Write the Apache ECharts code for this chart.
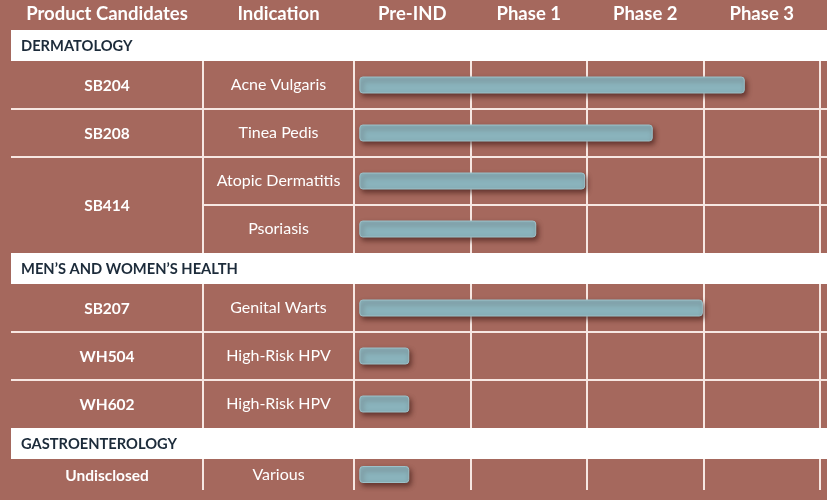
<!DOCTYPE html>
<html><head><meta charset="utf-8">
<script src="https://cdn.jsdelivr.net/npm/echarts@6.0.0/dist/echarts.min.js"></script>
<style>html,body{margin:0;padding:0;background:#A5685D;}#c{width:827px;height:500px;}</style>
</head><body><div id="c"></div>
<script>
// ---- data ----
const phases = ['Pre-IND', 'Phase 1', 'Phase 2', 'Phase 3'];
const tableHeaders = ['Product Candidates', 'Indication'];
const sectionNames = ['DERMATOLOGY', 'MEN’S AND WOMEN’S HEALTH', 'GASTROENTEROLOGY'];
const dermCandidates = ['SB204', 'SB208', 'SB414', 'SB414'];
const dermIndications = ['Acne Vulgaris', 'Tinea Pedis', 'Atopic Dermatitis', 'Psoriasis'];
const dermProgress = [3.35, 2.56, 1.98, 1.56];
const mwhCandidates = ['SB207', 'WH504', 'WH602'];
const mwhIndications = ['Genital Warts', 'High-Risk HPV', 'High-Risk HPV'];
const mwhProgress = [2.99, 0.47, 0.47];
const giCandidates = ['Undisclosed'];
const giIndications = ['Various'];
const giProgress = [0.47];
const barStart = 0.05;

// ---- layout / style ----
const L = {left: 11, col1: 203, col2: 354, right: 820, edge: 827, headerH: 30, bandH: 31};
const lineColor = '#F7E7E2';
const font = 'Lato';
const sections = [
  {name: sectionNames[0], cand: dermCandidates, ind: dermIndications, prog: dermProgress, rowH: 48},
  {name: sectionNames[1], cand: mwhCandidates, ind: mwhIndications, prog: mwhProgress, rowH: 48},
  {name: sectionNames[2], cand: giCandidates, ind: giIndications, prog: giProgress, rowH: 31}
];

const grids = [], xAxes = [], yAxes = [], series = [], graphics = [];
let y = L.headerH;
sections.forEach((s, k) => {
  const bandTop = y, gridTop = y + L.bandH, gridH = s.ind.length * s.rowH;
  y = gridTop + gridH;
  grids.push({left: L.col2, top: gridTop, width: L.right - L.col2, height: gridH});
  xAxes.push({type: 'value', gridIndex: k, min: 0, max: 4, interval: 1,
    axisLabel: {show: false}, axisLine: {show: false}, axisTick: {show: false},
    splitLine: {show: true, lineStyle: {color: lineColor, width: 2}}});
  yAxes.push({type: 'category', gridIndex: k, data: s.ind, inverse: true,
    axisLine: {show: false}, axisTick: {show: false}, splitLine: {show: false},
    axisLabel: {color: '#fff', fontSize: 16, fontFamily: font, align: 'center', verticalAlign: 'middle',
      padding: [4, 0, 0, 0], margin: (L.col2 - L.col1) / 2}});
  series.push({type: 'custom', xAxisIndex: k, yAxisIndex: k,
    encode: {x: [0, 1], y: 2},
    data: s.prog.map((v, i) => [barStart, v, i]),
    renderItem: (params, api) => {
      const a = api.coord([api.value(0), api.value(2)]);
      const b = api.coord([api.value(1), api.value(2)]);
      const h = 16;
      return {type: 'rect', shape: {x: a[0], y: a[1] - h / 2, width: b[0] - a[0], height: h, r: 3},
        style: {fill: '#8AB3BC', stroke: '#9DC2CA', lineWidth: 1,
          shadowBlur: 5, shadowOffsetX: 2, shadowOffsetY: 3, shadowColor: 'rgba(55,20,15,0.6)'}};
    }});
  // band
  graphics.push({type: 'rect', shape: {x: L.left, y: bandTop, width: L.edge - L.left, height: L.bandH},
    style: {fill: '#ffffff'}, z: 1});
  graphics.push({type: 'text', x: L.left + 10, y: bandTop + L.bandH / 2 + 0.5, z: 2,
    style: {text: s.name, fill: '#1C2B3A', font: 'bold 14.7px ' + font, verticalAlign: 'middle'}});
  // vertical line between candidate and indication columns
  graphics.push({type: 'line', shape: {x1: L.col1, y1: gridTop, x2: L.col1, y2: gridTop + gridH},
    style: {stroke: lineColor, lineWidth: 2}, z: 1});
  // horizontal lines between rows
  for (let i = 0; i < s.ind.length - 1; i++) {
    const ly = gridTop + (i + 1) * s.rowH;
    const x1 = s.cand[i] === s.cand[i + 1] ? L.col1 : L.left;
    graphics.push({type: 'line', shape: {x1: x1, y1: ly, x2: L.edge, y2: ly},
      style: {stroke: lineColor, lineWidth: 2}, z: 1});
  }
  // candidate names (merged cells)
  let i = 0;
  while (i < s.cand.length) {
    let j = i;
    while (j + 1 < s.cand.length && s.cand[j + 1] === s.cand[i]) j++;
    const cy = gridTop + ((i + j + 1) / 2) * s.rowH + 1;
    graphics.push({type: 'text', x: (L.left + L.col1) / 2, y: cy, z: 2,
      style: {text: s.cand[i], fill: '#fff', font: 'bold 15.5px ' + font, align: 'center', verticalAlign: 'middle'}});
    i = j + 1;
  }
});
// header category axis for phases
xAxes.push({type: 'category', gridIndex: 0, position: 'top', data: phases, boundaryGap: true,
  axisLine: {show: false}, axisTick: {show: false}, splitLine: {show: false},
  axisLabel: {color: '#fff', fontSize: 18.5, fontWeight: 'bold', fontFamily: font, margin: 37}});
graphics.push({type: 'text', x: (L.left + L.col1) / 2, y: L.headerH / 2 - 1, z: 2,
  style: {text: tableHeaders[0], fill: '#fff', font: 'bold 18.5px ' + font, align: 'center', verticalAlign: 'middle'}});
graphics.push({type: 'text', x: (L.col1 + L.col2) / 2, y: L.headerH / 2 - 1, z: 2,
  style: {text: tableHeaders[1], fill: '#fff', font: 'bold 18.5px ' + font, align: 'center', verticalAlign: 'middle'}});

const chart = echarts.init(document.getElementById('c'), null, {renderer: 'canvas'});
chart.setOption({
  backgroundColor: '#A5685D',
  animation: false,
  textStyle: {fontFamily: font},
  grid: grids, xAxis: xAxes, yAxis: yAxes, series: series,
  graphic: graphics
});
</script></body></html>
